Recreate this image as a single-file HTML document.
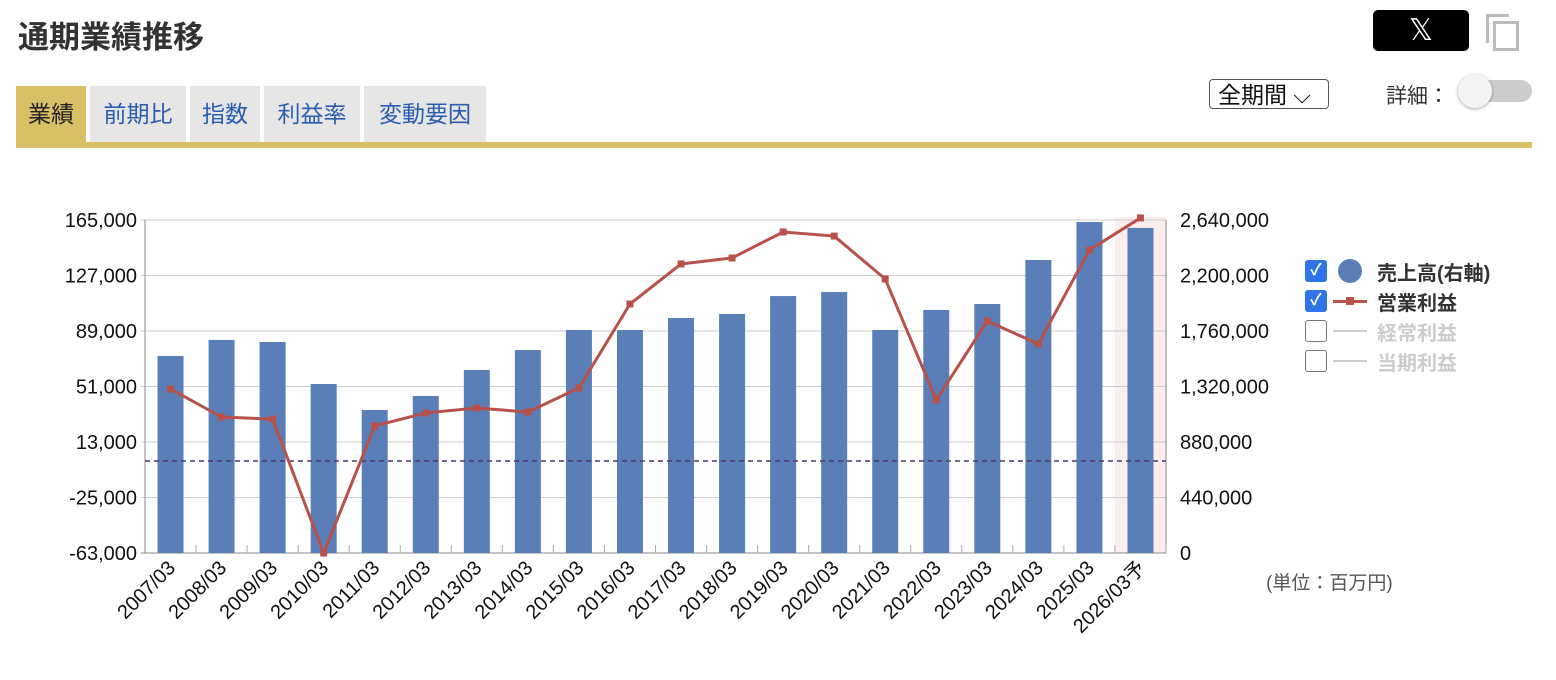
<!DOCTYPE html>
<html><head><meta charset="utf-8">
<style>
body{margin:0;width:1556px;height:680px;background:#fff;font-family:"Liberation Sans","Noto Sans CJK JP",sans-serif;position:relative;overflow:hidden}
.abs{position:absolute}
.tab{position:absolute;top:86px;height:56px;background:#e6e6e6;color:#2a5db0;font-size:23px;line-height:56px;text-align:center}
</style></head><body>
<div class="abs" style="left:18px;top:12px;font-size:31px;font-weight:bold;color:#333">通期業績推移</div>
<div class="abs" style="left:1373px;top:10px;width:96px;height:41px;background:#000;border-radius:5px;color:#fff;font-size:30px;text-align:center;line-height:41px">𝕏</div>
<div class="abs" style="left:1486px;top:14px;width:30px;height:34px">
<div class="abs" style="left:0;top:0;width:20px;height:26px;border:3px solid #bbb;border-right:none;border-bottom:none"></div>
<div class="abs" style="left:7px;top:7px;width:20px;height:24px;border:3px solid #bbb"></div></div>
<div class="tab" style="left:16px;width:70px;background:#d9bf66;color:#222">業績</div>
<div class="tab" style="left:90px;width:96px">前期比</div>
<div class="tab" style="left:190px;width:70px">指数</div>
<div class="tab" style="left:264px;width:96px">利益率</div>
<div class="tab" style="left:364px;width:122px">変動要因</div>
<div class="abs" style="left:16px;top:142px;width:1516px;height:6px;background:#d9bf66"></div>
<div class="abs" style="left:1209px;top:79px;width:120px;height:30px;border:1.5px solid #555;border-radius:4px;font-size:23px;line-height:30px;padding-left:8px;box-sizing:border-box;color:#111">全期間 ⌵</div>
<div class="abs" style="left:1386px;top:80px;font-size:21px;color:#333">詳細：</div>
<div class="abs" style="left:1462px;top:80px;width:70px;height:22px;border-radius:11px;background:#ccc">
<div class="abs" style="left:-4px;top:-6px;width:34px;height:34px;border-radius:50%;background:#f4f4f4;box-shadow:0 1px 3px rgba(0,0,0,.35)"></div></div>

<svg class="abs" style="left:0;top:0" width="1556" height="680" id="chart"></svg>

<div class="abs" style="left:1266px;top:568px;font-size:19px;color:#555">(単位：百万円)</div>
<div class="abs" style="left:1305px;top:256px;width:240px;font-size:20px;font-weight:bold;white-space:nowrap">
 <div style="position:relative;height:30px"><span style="position:absolute;left:0;top:4px;width:22px;height:22px;background:#2f74e8;border-radius:3px;color:#fff;text-align:center;line-height:22px;font-size:16px">✓</span><span style="position:absolute;left:33px;top:3px;width:24px;height:24px;border-radius:50%;background:#5a7fb8"></span><span style="position:absolute;left:72px;top:1px;color:#333">売上高(右軸)</span></div>
 <div style="position:relative;height:30px"><span style="position:absolute;left:0;top:4px;width:22px;height:22px;background:#2f74e8;border-radius:3px;color:#fff;text-align:center;line-height:22px;font-size:16px">✓</span><span style="position:absolute;left:28px;top:14px;width:34px;height:3px;background:#b7514a"></span><span style="position:absolute;left:41px;top:11px;width:8px;height:8px;background:#b7514a"></span><span style="position:absolute;left:72px;top:1px;color:#333">営業利益</span></div>
 <div style="position:relative;height:30px"><span style="position:absolute;left:0;top:4px;width:20px;height:20px;border:1.5px solid #777;border-radius:3px"></span><span style="position:absolute;left:28px;top:14px;width:34px;height:2px;background:#ccc"></span><span style="position:absolute;left:72px;top:1px;color:#ccc">経常利益</span></div>
 <div style="position:relative;height:30px"><span style="position:absolute;left:0;top:4px;width:20px;height:20px;border:1.5px solid #777;border-radius:3px"></span><span style="position:absolute;left:28px;top:14px;width:34px;height:2px;background:#ccc"></span><span style="position:absolute;left:72px;top:1px;color:#ccc">当期利益</span></div>
</div>
<script>
const categories=["2007/03","2008/03","2009/03","2010/03","2011/03","2012/03","2013/03","2014/03","2015/03","2016/03","2017/03","2018/03","2019/03","2020/03","2021/03","2022/03","2023/03","2024/03","2025/03","2026/03予"];
const sales=[1562000,1689000,1673000,1340000,1134000,1245000,1451000,1609000,1768000,1768000,1863000,1895000,2037000,2069000,1768000,1927000,1974000,2323000,2624000,2577000];
const opProfit=[49300,30100,28700,-63000,24000,32900,36300,33500,50000,107500,134900,139000,156800,154000,124600,41800,95800,80100,144500,166400];
const leftTicks=[-63000,-25000,13000,51000,89000,127000,165000];
const rightTicks=[0,440000,880000,1320000,1760000,2200000,2640000];
const svg=document.getElementById('chart');const NS='http://www.w3.org/2000/svg';
const X0=145,X1=1166,Y0=553,Y1=220;
const bw=(X1-X0)/categories.length;
const xc=i=>X0+bw*(i+0.5);
const yL=v=>Y0-(v-leftTicks[0])/(leftTicks[leftTicks.length-1]-leftTicks[0])*(Y0-Y1);
const yR=v=>Y0-(v-rightTicks[0])/(rightTicks[rightTicks.length-1]-rightTicks[0])*(Y0-Y1);
function el(t,a){const e=document.createElementNS(NS,t);for(const k in a)e.setAttribute(k,a[k]);svg.appendChild(e);return e;}
const fmt=v=>v.toLocaleString('en-US');
let e=el('rect',{x:X0+bw*19,y:Y1-3,width:bw,height:Y0-Y1+3,fill:'#fdeeee'});


leftTicks.forEach((t,i)=>{
 e=el('line',{x1:X0-4,x2:X1,y1:yL(t),y2:yL(t),stroke:i==0?'#888':'#ccc','stroke-width':1});
 
 
 e=el('text',{x:X0-8,y:yL(t)+7,'text-anchor':'end','font-size':20,fill:'#111'});e.textContent=fmt(t);
 
 
});
rightTicks.forEach(t=>{
 e=el('text',{x:X1+14,y:yR(t)+7,'font-size':20,fill:'#111'});e.textContent=fmt(t);
 
 
});
e=el('line',{x1:X0,x2:X0,y1:Y1,y2:Y0,stroke:'#888'});


e=el('line',{x1:X1,x2:X1,y1:Y1,y2:Y0,stroke:'#888'});


sales.forEach((v,i)=>{
 e=el('rect',{x:xc(i)-13,y:yR(v),width:26,height:Y0-yR(v),fill:'#5a7fb8'});
 
 
});
categories.forEach((c,i)=>{
 e=el('line',{x1:X0+bw*(i+1),x2:X0+bw*(i+1),y1:Y0,y2:Y0-8,stroke:'#aaa'});
 
 
 const x=xc(i)+6,y=Y0+16;
 e=el('text',{x:x,y:y,'text-anchor':'end','font-size':20,fill:'#111',transform:`rotate(-45 ${x} ${y})`});e.textContent=c;
 
 
});
e=el('line',{x1:X0,x2:X1,y1:yL(0),y2:yL(0),stroke:'#4a3a6a','stroke-width':1.5,'stroke-dasharray':'5,4'});


e=el('polyline',{points:opProfit.map((v,i)=>xc(i)+','+yL(v)).join(' '),fill:'none',stroke:'#b7514a','stroke-width':3});


opProfit.forEach((v,i)=>{
 e=el('rect',{x:xc(i)-3.5,y:yL(v)-3.5,width:7,height:7,fill:'#b7514a'});
 
 
});
</script>
</body></html>
